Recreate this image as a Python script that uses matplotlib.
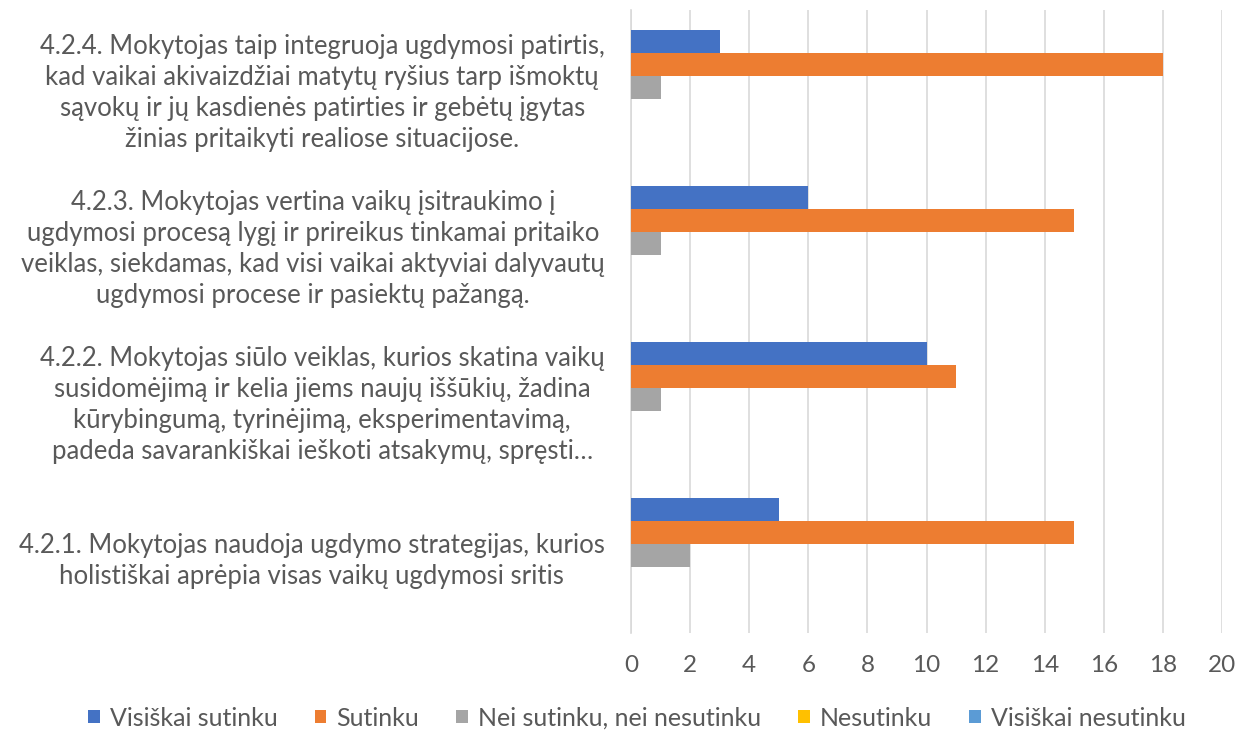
"""Grouped horizontal bar chart: teacher practice survey (4.2.x items)."""

import matplotlib
matplotlib.use("Agg")
import matplotlib.pyplot as plt
import numpy as np

categories = [
    "4.2.1. Mokytojas naudoja ugdymo strategijas, kurios\nholistiškai aprėpia visas vaikų ugdymosi sritis",
    "4.2.2. Mokytojas siūlo veiklas, kurios skatina vaikų\nsusidomėjimą ir kelia jiems naujų iššūkių, žadina\nkūrybingumą, tyrinėjimą, eksperimentavimą,\npadeda savarankiškai ieškoti atsakymų, spręsti…",
    "4.2.3. Mokytojas vertina vaikų įsitraukimo į\nugdymosi procesą lygį ir prireikus tinkamai pritaiko\nveiklas, siekdamas, kad visi vaikai aktyviai dalyvautų\nugdymosi procese ir pasiektų pažangą.",
    "4.2.4. Mokytojas taip integruoja ugdymosi patirtis,\nkad vaikai akivaizdžiai matytų ryšius tarp išmoktų\nsąvokų ir jų kasdienės patirties ir gebėtų įgytas\nžinias pritaikyti realiose situacijose.",
]
series_names = [
    "Visiškai sutinku",
    "Sutinku",
    "Nei sutinku, nei nesutinku",
    "Nesutinku",
    "Visiškai nesutinku",
]
visiskai_sutinku = [5, 10, 6, 3]
sutinku = [15, 11, 15, 18]
nei_nei = [2, 1, 1, 1]
nesutinku = [0, 0, 0, 0]
visiskai_nesutinku = [0, 0, 0, 0]
x_ticks = list(range(0, 21, 2))

colors = ["#4472C4", "#ED7D31", "#A5A5A5", "#FFC000", "#5B9BD5"]
text_color = "#595959"

plt.rcParams["font.family"] = ["Lato", "DejaVu Sans"]

fig = plt.figure(figsize=(12.45, 7.31), dpi=100)
ax = fig.add_axes([631 / 1245, 1 - 633 / 731, (1222 - 631) / 1245, (633 - 10) / 731])

y = np.arange(len(categories))
h = 0.1475
values = [visiskai_sutinku, sutinku, nei_nei, nesutinku, visiskai_nesutinku]
for i, (name, vals, col) in enumerate(zip(series_names, values, colors)):
    ax.barh(y + (2 - i) * h, vals, height=h, color=col, label=name, zorder=3)

ax.set_xlim(0, 20)
ax.set_ylim(-0.5, len(categories) - 0.5)
ax.set_xticks(x_ticks)
ax.set_yticks(y)
ax.set_yticklabels(categories, fontsize=18.5, color=text_color, linespacing=1.3)
for lbl in ax.get_yticklabels():
    lbl.set_multialignment("center")
ax.tick_params(axis="y", length=0, pad=19)
ax.tick_params(axis="x", length=0, pad=16, labelsize=17.5, labelcolor=text_color)
ax.grid(axis="x", color="#D9D9D9", linewidth=1.2, zorder=0)
for side in ("top", "right", "bottom"):
    ax.spines[side].set_visible(False)
ax.spines["left"].set_color("#D9D9D9")
ax.spines["left"].set_linewidth(1.2)

handles, labels = ax.get_legend_handles_labels()
fig.legend(
    handles, labels, loc="center", bbox_to_anchor=(0.5116, 1 - 718 / 731),
    ncol=5, frameon=False, fontsize=18, labelcolor=text_color,
    handlelength=0.45, handleheight=0.45, handletextpad=0.4, columnspacing=1.5,
)

fig.savefig("out.png", dpi=100)
